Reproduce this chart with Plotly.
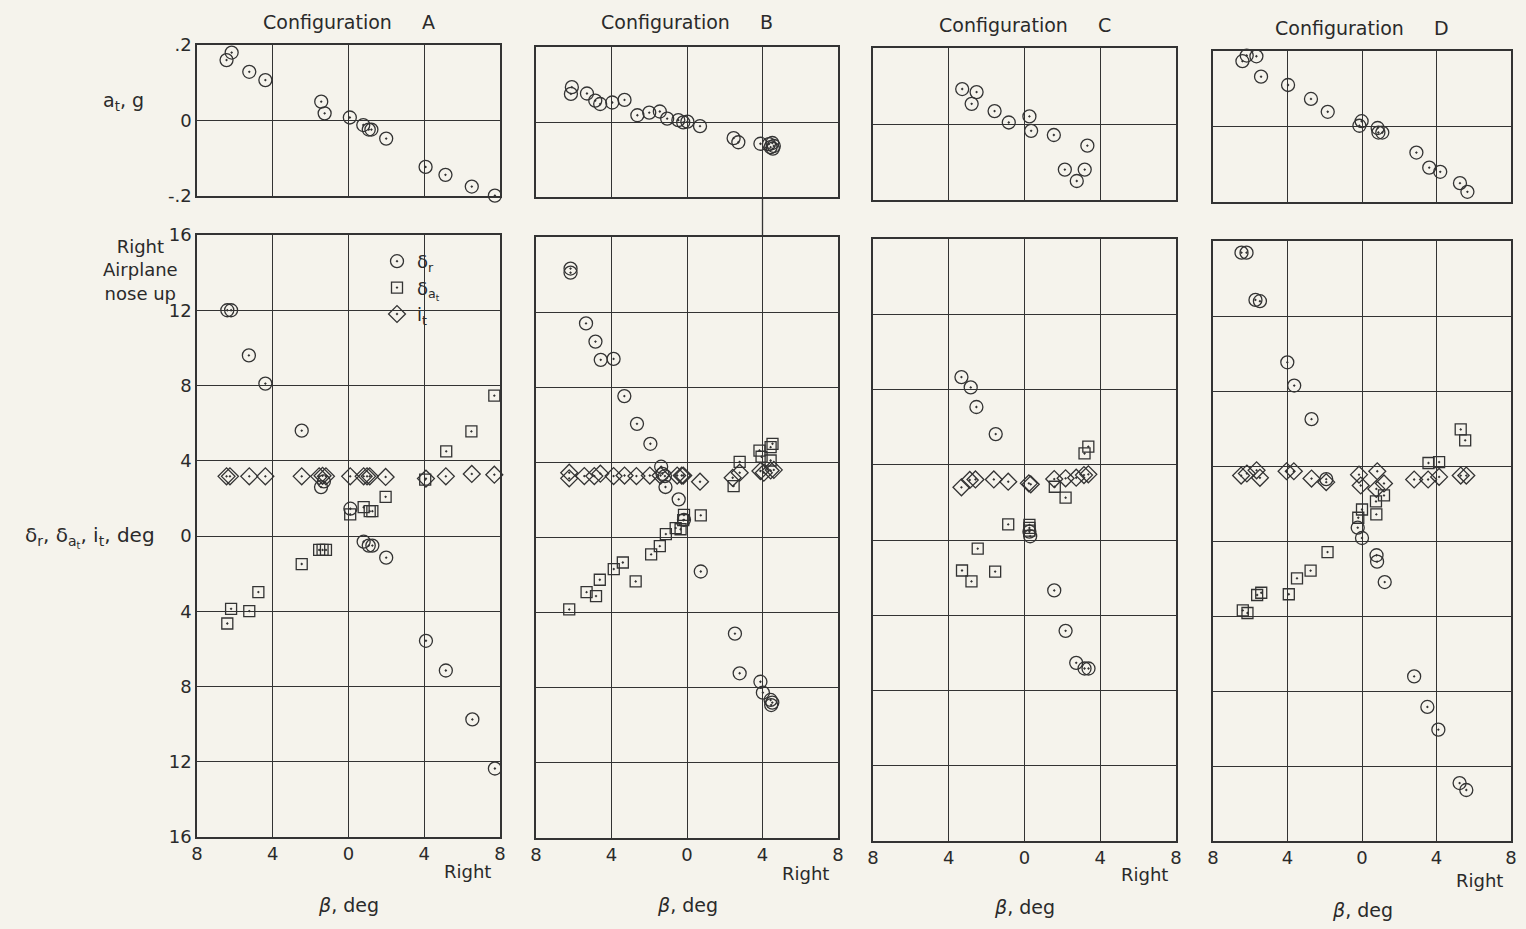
import plotly.graph_objects as go

W, H = 1526, 929

# ---------------- data (beta in deg, positive = right) ----------------
# Configuration A
A_at_beta = [-6.44, -6.17, -5.24, -4.39, -1.44, -1.26, 0.07, 0.78, 1.07, 1.21, 1.99, 4.07, 5.12, 6.51, 7.73]
A_at = [0.160, 0.180, 0.129, 0.107, 0.050, 0.019, 0.008, -0.012, -0.024, -0.024, -0.048, -0.123, -0.144, -0.175, -0.199]
A_dr_beta = [-6.4, -6.2, -5.26, -4.39, -2.47, -1.45, -1.3, 0.1, 0.8, 1.07, 1.26, 1.99, 4.09, 5.14, 6.54, 7.73]
A_dr = [12.0, 12.0, 9.6, 8.1, 5.6, 2.6, 2.9, 1.45, -0.3, -0.51, -0.51, -1.15, -5.57, -7.15, -9.75, -12.36]
A_dat_beta = [7.7, 6.49, 5.16, 4.05, 1.96, 0.8, 1.12, 1.26, 0.09, -1.55, -1.37, -1.19, -2.47, -4.76, -6.2, -5.24, -6.4]
A_dat = [7.46, 5.56, 4.5, 3.0, 2.08, 1.53, 1.32, 1.32, 1.15, -0.74, -0.74, -0.74, -1.49, -2.98, -3.87, -3.99, -4.65]
A_it_beta = [-6.44, -6.26, -5.24, -4.39, -2.47, -1.55, -1.37, -1.19, 0.09, 0.8, 0.98, 1.12, 1.96, 4.09, 5.14, 6.51, 7.7]
A_it = [3.17, 3.17, 3.17, 3.17, 3.17, 3.17, 3.2, 3.17, 3.17, 3.17, 3.17, 3.17, 3.14, 3.05, 3.17, 3.3, 3.26]

# Configuration B
B_at_beta = [-6.1, -6.15, -5.3, -4.86, -4.6, -3.96, -3.31, -2.63, -2.0, -1.44, -1.05, -0.46, -0.2, 0.02, 0.69, 2.47, 2.72, 3.89, 4.34, 4.52, 4.43, 4.55, 4.6]
B_at = [0.093, 0.075, 0.076, 0.057, 0.048, 0.052, 0.059, 0.018, 0.025, 0.028, 0.009, 0.005, -0.001, 0.001, -0.011, -0.043, -0.054, -0.058, -0.059, -0.056, -0.067, -0.071, -0.064]
B_dr_beta = [-6.17, -6.17, -5.35, -4.85, -4.57, -3.89, -3.32, -2.65, -1.94, -1.37, -1.3, -1.17, -1.14, -0.44, -0.16, 0.73, 2.54, 2.79, 3.89, 4.02, 4.43, 4.52, 4.46]
B_dr = [14.32, 14.1, 11.4, 10.43, 9.46, 9.51, 7.53, 6.05, 4.99, 3.77, 3.39, 3.27, 2.69, 2.03, 0.94, -1.81, -5.12, -7.23, -7.68, -8.26, -8.65, -8.79, -8.92]
B_dat_beta = [4.53, 4.43, 3.84, 3.95, 4.43, 2.79, 2.47, 0.73, -0.16, -0.2, -0.6, -0.34, -1.12, -1.44, -1.9, -3.4, -3.88, -2.72, -4.62, -5.32, -4.82, -6.24]
B_dat = [4.99, 4.81, 4.63, 4.3, 4.1, 4.03, 2.74, 1.18, 1.2, 0.92, 0.5, 0.44, 0.18, -0.46, -0.9, -1.33, -1.68, -2.34, -2.25, -2.91, -3.12, -3.83]
B_it_beta = [-6.24, -6.24, -5.44, -4.91, -4.59, -3.89, -3.31, -2.68, -1.97, -1.4, -0.52, -0.28, -0.2, 0.69, 2.42, 2.79, 3.89, 4.07, 4.43, 4.6]
B_it = [3.45, 3.15, 3.27, 3.27, 3.4, 3.27, 3.3, 3.27, 3.3, 3.3, 3.3, 3.3, 3.3, 2.97, 3.18, 3.45, 3.54, 3.45, 3.57, 3.6]

# Configuration C
C_at_beta = [-3.29, -2.53, -2.79, -1.58, -0.83, 0.26, 0.35, 1.55, 3.32, 2.13, 3.18, 2.76]
C_at = [0.092, 0.084, 0.053, 0.034, 0.004, 0.020, -0.018, -0.029, -0.057, -0.120, -0.120, -0.150]
C_dr_beta = [-3.33, -2.84, -2.54, -1.52, 0.26, 0.3, 1.57, 2.17, 2.73, 3.17, 3.38]
C_dr = [8.66, 8.11, 7.07, 5.63, 0.44, 0.2, -2.68, -4.83, -6.53, -6.83, -6.83]
C_dat_beta = [3.37, 3.17, 1.6, 2.17, -0.86, 0.26, 0.26, 0.26, -2.47, -3.3, -2.8, -1.55]
C_dat = [4.96, 4.6, 2.83, 2.25, 0.83, 0.8, 0.64, 0.5, -0.46, -1.62, -2.2, -1.68]
C_it_beta = [-3.33, -2.89, -2.59, -1.62, -0.86, 0.23, 0.33, 1.57, 2.17, 2.73, 3.14, 3.37]
C_it = [2.8, 3.19, 3.22, 3.22, 3.1, 3.01, 2.96, 3.24, 3.28, 3.31, 3.45, 3.49]

# Configuration D
D_at_beta = [-6.42, -6.19, -5.67, -5.42, -3.97, -2.74, -1.84, -0.02, -0.14, 0.84, 0.88, 1.09, 2.92, 3.61, 4.2, 5.26, 5.66]
D_at = [0.173, 0.188, 0.186, 0.132, 0.110, 0.073, 0.039, 0.014, 0.002, -0.004, -0.016, -0.016, -0.069, -0.109, -0.120, -0.150, -0.173]
D_dr_beta = [-6.47, -6.2, -5.72, -5.48, -4.01, -3.64, -2.71, -1.92, -0.23, 0.0, 0.78, 0.81, 1.22, 2.8, 3.51, 4.1, 5.24, 5.6]
D_dr = [15.38, 15.38, 12.86, 12.79, 9.53, 8.29, 6.5, 3.3, 0.71, 0.16, -0.76, -1.1, -2.19, -7.22, -8.85, -10.06, -12.91, -13.28]
D_dat_beta = [5.3, 5.54, 3.57, 4.14, 1.18, 0.75, 0.77, 0.0, -0.2, -1.85, -2.76, -3.49, -3.93, -5.63, -5.41, -6.4, -6.15]
D_dat = [5.95, 5.37, 4.16, 4.21, 2.43, 2.11, 1.42, 1.68, 1.24, -0.59, -1.58, -1.99, -2.84, -2.88, -2.76, -3.7, -3.84]
D_it_beta = [-6.49, -6.18, -5.66, -5.48, -4.05, -3.66, -2.71, -1.92, -0.16, -0.07, 0.82, 1.18, 0.77, 2.8, 3.55, 4.14, 5.3, 5.6]
D_it = [3.49, 3.6, 3.77, 3.37, 3.72, 3.72, 3.33, 3.14, 3.54, 2.96, 3.72, 3.07, 2.78, 3.28, 3.28, 3.42, 3.49, 3.49]

configs = ["A", "B", "C", "D"]
x_ticks = [-8, -4, 0, 4, 8]
x_ticktext = ["8", "4", "0", "4", "8"]
at_ticks = [-0.2, 0, 0.2]
at_ticktext = ["-.2", "0", ".2"]
d_ticks = [-16, -12, -8, -4, 0, 4, 8, 12, 16]
d_ticktext = ["16", "12", "8", "4", "0", "4", "8", "12", "16"]

data = {
    "A": (A_at_beta, A_at, A_dr_beta, A_dr, A_dat_beta, A_dat, A_it_beta, A_it),
    "B": (B_at_beta, B_at, B_dr_beta, B_dr, B_dat_beta, B_dat, B_it_beta, B_it),
    "C": (C_at_beta, C_at, C_dr_beta, C_dr, C_dat_beta, C_dat, C_it_beta, C_it),
    "D": (D_at_beta, D_at, D_dr_beta, D_dr, D_dat_beta, D_dat, D_it_beta, D_it),
}

# ---------------- layout geometry (pixels) ----------------
top_boxes = {"A": (197, 500, 45, 196), "B": (536, 838, 47, 197),
             "C": (873, 1176, 48, 200), "D": (1213, 1511, 51, 202)}
bot_boxes = {"A": (197, 500, 235, 837), "B": (536, 838, 237, 838),
             "C": (873, 1176, 239, 841), "D": (1213, 1511, 241, 841)}

def xd(x0, x1):
    return [x0 / W, x1 / W]

def yd(y0, y1):
    return [1 - y1 / H, 1 - y0 / H]

INK = "#333333"
BG = "#f5f3ec"
FONT = "DejaVu Sans"

fig = go.Figure()
layout = dict(width=W, height=H, margin=dict(l=0, r=0, t=0, b=0, pad=0, autoexpand=False),
              paper_bgcolor=BG, plot_bgcolor=BG,
              font=dict(family=FONT, size=18, color="#2a2a2a"),
              showlegend=True)

def mk(symbol, size):
    return dict(symbol=symbol, size=size, color=INK, line=dict(color=INK, width=1.3))

def axis_common():
    return dict(showline=True, mirror=True, linecolor=INK, linewidth=1.5,
                showgrid=True, gridcolor=INK, gridwidth=1.3, zeroline=False,
                ticks="", fixedrange=True, automargin=False)

annotations = []
shapes = []
for i, c in enumerate(configs):
    at_b, at_v, dr_b, dr_v, da_b, da_v, it_b, it_v = data[c]
    nt = 2 * i + 1
    nb = 2 * i + 2
    xt, yt = ("x" if nt == 1 else f"x{nt}"), ("y" if nt == 1 else f"y{nt}")
    xb, yb = f"x{nb}", f"y{nb}"
    tx0, tx1, ty0, ty1 = top_boxes[c]
    bx0, bx1, by0, by1 = bot_boxes[c]

    ax = axis_common()
    ax.update(domain=xd(tx0, tx1), range=[-8, 8], tickvals=x_ticks, ticktext=x_ticktext,
              showticklabels=False, anchor=yt)
    layout["xaxis" if nt == 1 else f"xaxis{nt}"] = ax
    ay = axis_common()
    ay.update(domain=yd(ty0, ty1), range=[-0.2, 0.2], tickvals=at_ticks, ticktext=at_ticktext,
              showticklabels=(c == "A"), anchor=xt)
    layout["yaxis" if nt == 1 else f"yaxis{nt}"] = ay

    ax = axis_common()
    ax.update(domain=xd(bx0, bx1), range=[-8, 8], tickvals=x_ticks, ticktext=x_ticktext,
              showticklabels=True, anchor=yb)
    layout[f"xaxis{nb}"] = ax
    ay = axis_common()
    ay.update(domain=yd(by0, by1), range=[-16, 16], tickvals=d_ticks, ticktext=d_ticktext,
              showticklabels=(c == "A"), anchor=xb)
    layout[f"yaxis{nb}"] = ay

    fig.add_trace(go.Scatter(x=at_b, y=at_v, mode="markers", xaxis=xt, yaxis=yt,
                             marker=mk("circle-open-dot", 13),
                             showlegend=False, cliponaxis=False))
    fig.add_trace(go.Scatter(x=dr_b, y=dr_v, mode="markers", xaxis=xb, yaxis=yb, name="δ<sub>r</sub>",
                             marker=mk("circle-open-dot", 13),
                             showlegend=(c == "A"), legendrank=1, cliponaxis=False))
    fig.add_trace(go.Scatter(x=da_b, y=da_v, mode="markers", xaxis=xb, yaxis=yb,
                             name="δ<sub>a<sub>t</sub></sub>",
                             marker=mk("square-open-dot", 11),
                             showlegend=(c == "A"), legendrank=2, cliponaxis=False))
    fig.add_trace(go.Scatter(x=it_b, y=it_v, mode="markers", xaxis=xb, yaxis=yb, name="i<sub>t</sub>",
                             marker=mk("diamond-open-dot", 13),
                             showlegend=(c == "A"), legendrank=3, cliponaxis=False))

    cx = (bx0 + bx1) / 2
    title_y = {"A": 22, "B": 22, "C": 25, "D": 28}[c]
    annotations.append(dict(text=f"Configuration&nbsp;&nbsp;&nbsp;&nbsp;&nbsp;{c}", x=cx / W, y=1 - title_y / H,
                            xref="paper", yref="paper", showarrow=False, font=dict(size=19),
                            xanchor="center", yanchor="middle"))
    right_y = {"A": 871, "B": 873, "C": 874, "D": 880}[c]
    annotations.append(dict(text="Right", x=(bx1 - 32) / W, y=1 - right_y / H, xref="paper", yref="paper",
                            showarrow=False, font=dict(size=18), xanchor="center", yanchor="middle"))
    beta_y = {"A": 905, "B": 905, "C": 907, "D": 910}[c]
    annotations.append(dict(text="<i>β</i>, deg", x=cx / W, y=1 - beta_y / H, xref="paper", yref="paper",
                            showarrow=False, font=dict(size=19), xanchor="center", yanchor="middle"))

# stray grid line between B panels at beta = 4 (as in the original sheet)
shapes.append(dict(type="line", xref="x4", yref="paper", x0=4, x1=4,
                   y0=1 - 237 / H, y1=1 - 197 / H, line=dict(color=INK, width=1.3)))

annotations.append(dict(text="a<sub>t</sub>, g", x=124 / W, y=1 - 101 / H, xref="paper", yref="paper",
                        showarrow=False, font=dict(size=19), xanchor="center", yanchor="middle"))
annotations.append(dict(text="δ<sub>r</sub>, δ<sub>a<sub>t</sub></sub>, i<sub>t</sub>, deg",
                        x=90 / W, y=1 - 537 / H, xref="paper", yref="paper",
                        showarrow=False, font=dict(size=20), xanchor="center", yanchor="middle"))
annotations.append(dict(text="Right<br>Airplane<br>nose up", x=140 / W, y=1 - 270 / H,
                        xref="paper", yref="paper", showarrow=False, font=dict(size=18),
                        xanchor="center", yanchor="middle", align="center"))

layout["annotations"] = annotations
layout["shapes"] = shapes
layout["legend"] = dict(x=377 / W, y=1 - 243 / H, xanchor="left", yanchor="top",
                        bgcolor="rgba(0,0,0,0)", font=dict(size=18), itemwidth=30,
                        tracegroupgap=0, traceorder="normal")
fig.update_layout(**layout)
fig.write_html("out.html")
